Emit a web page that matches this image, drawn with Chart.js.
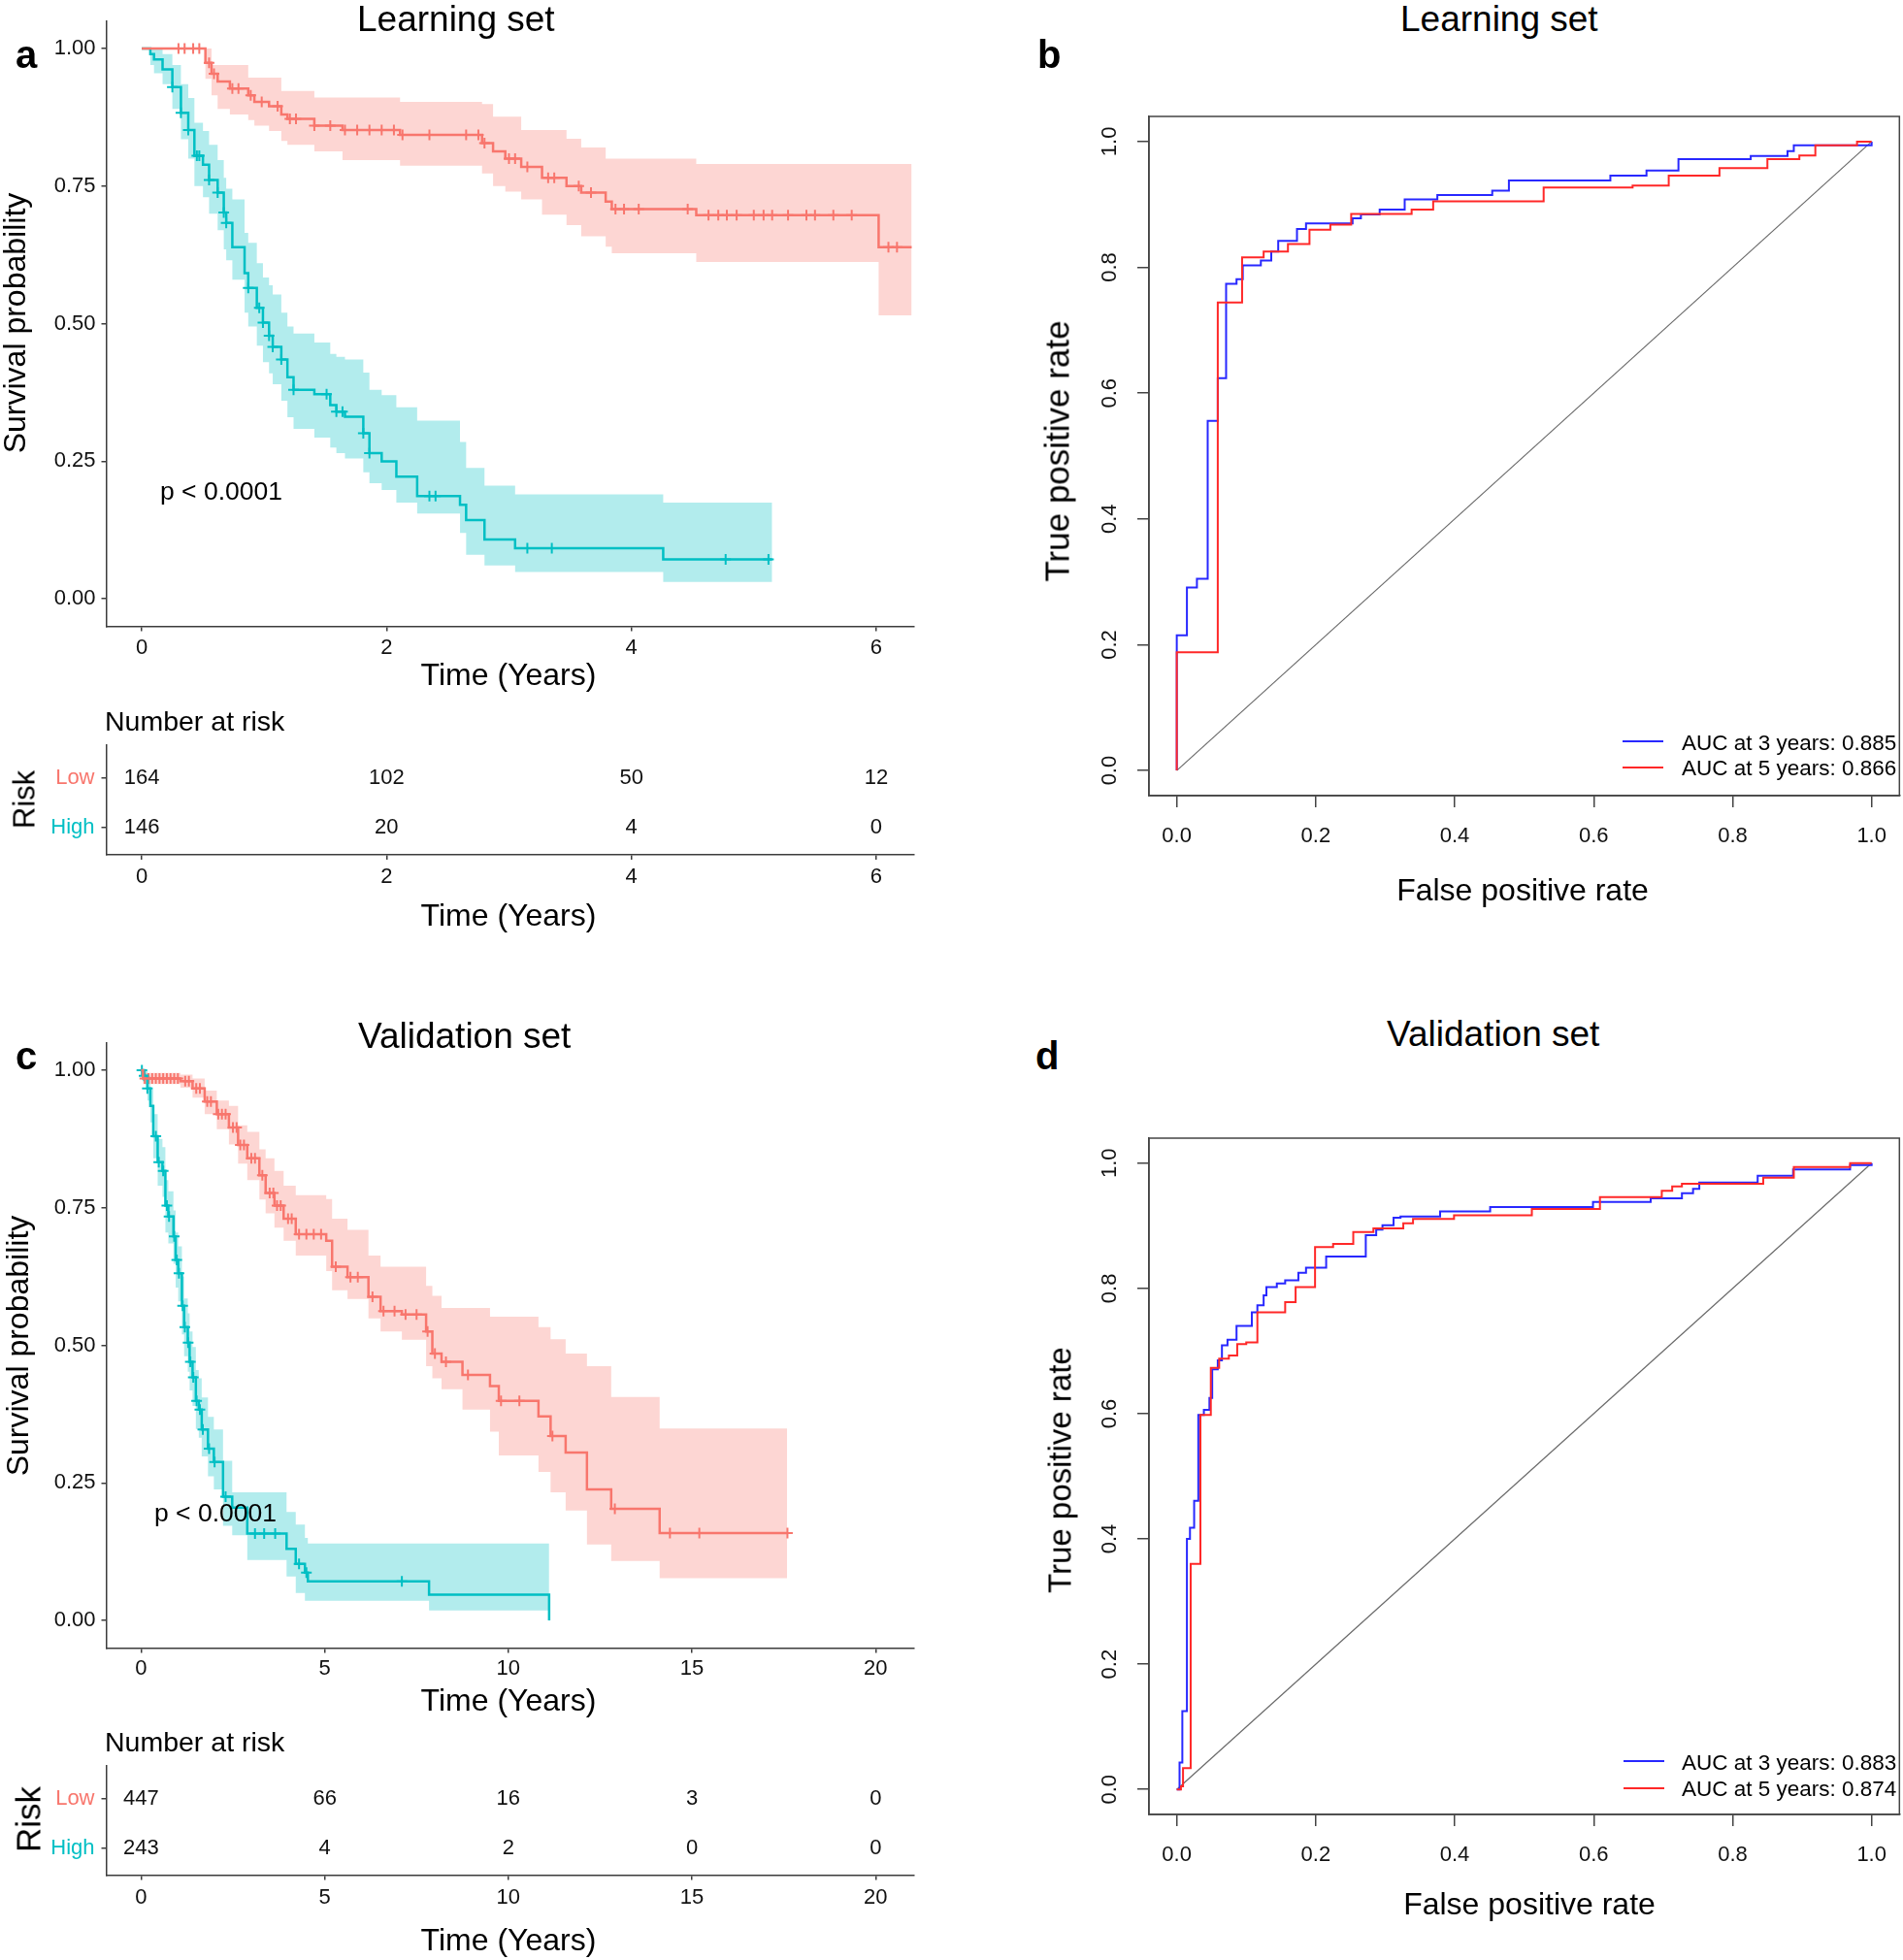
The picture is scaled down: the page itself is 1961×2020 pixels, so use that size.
<!DOCTYPE html>
<html>
<head>
<meta charset="utf-8">
<script src="https://cdn.jsdelivr.net/npm/chart.js@4.4.0/dist/chart.umd.min.js"></script>
<style>
  html, body { margin: 0; padding: 0; background: #fff; overflow: hidden; }
  #page { position: relative; width: 1961px; height: 2020px; font-family: "Liberation Sans", Arial, sans-serif; color: #000; }
  #page canvas { position: absolute; }
  .txt { position: absolute; white-space: nowrap; line-height: 1; }
  .bold { font-weight: bold; }
  .ctr { transform: translateX(-50%); }
  .rot { transform: translate(-50%, -50%) rotate(-90deg); }
  .key { position: absolute; height: 2px; width: 42px; }
</style>
</head>
<body>
<div id="page">
  <canvas id="kmLearn" width="960" height="700" style="left:0;top:0"></canvas>
  <canvas id="riskLearn" width="960" height="200" style="left:0;top:740px"></canvas>
  <canvas id="kmValid" width="960" height="710" style="left:0;top:1050px"></canvas>
  <canvas id="riskValid" width="960" height="200" style="left:0;top:1790px"></canvas>
  <canvas id="rocLearn" width="911" height="860" style="left:1050px;top:60px"></canvas>
  <canvas id="rocValid" width="911" height="860" style="left:1050px;top:1110px"></canvas>

  <div class="txt bold" style="left:16px;top:36px;font-size:40px">a</div>
  <div class="txt bold" style="left:1069px;top:36px;font-size:40px">b</div>
  <div class="txt bold" style="left:16px;top:1068px;font-size:40px">c</div>
  <div class="txt bold" style="left:1067px;top:1068px;font-size:40px">d</div>

  <div class="txt" style="left:368px;top:1px;font-size:37px">Learning set</div>
  <div class="txt" style="left:1443px;top:1px;font-size:37px">Learning set</div>
  <div class="txt" style="left:369px;top:1049px;font-size:37px">Validation set</div>
  <div class="txt" style="left:1429px;top:1047px;font-size:37px">Validation set</div>

  <div class="txt rot" style="left:15px;top:333px;font-size:32px">Survival probability</div>
  <div class="txt rot" style="left:18px;top:1387px;font-size:32px">Survival probability</div>
  <div class="txt ctr" style="left:524px;top:679px;font-size:32px">Time (Years)</div>
  <div class="txt ctr" style="left:524px;top:927px;font-size:32px">Time (Years)</div>
  <div class="txt ctr" style="left:524px;top:1736px;font-size:32px">Time (Years)</div>
  <div class="txt ctr" style="left:524px;top:1983px;font-size:32px">Time (Years)</div>
  <div class="txt" style="left:165px;top:493px;font-size:26.5px">p &lt; 0.0001</div>
  <div class="txt" style="left:159px;top:1546px;font-size:26.5px">p &lt; 0.0001</div>
  <div class="txt" style="left:108px;top:729px;font-size:28.5px">Number at risk</div>
  <div class="txt" style="left:108px;top:1781px;font-size:28.5px">Number at risk</div>
  <div class="txt rot" style="left:24.5px;top:824px;font-size:31px">Risk</div>
  <div class="txt rot" style="left:29px;top:1875px;font-size:35px">Risk</div>

  <div class="txt ctr" style="left:1569px;top:901px;font-size:32px">False positive rate</div>
  <div class="txt ctr" style="left:1576px;top:1946px;font-size:32px">False positive rate</div>
  <div class="txt rot" style="left:1089px;top:465px;font-size:35px">True positive rate</div>
  <div class="txt rot" style="left:1092px;top:1515px;font-size:33px">True positive rate</div>

  <div class="key" style="left:1672px;top:763px;background:rgb(40,40,255)"></div>
  <div class="key" style="left:1672px;top:790px;background:rgb(255,40,40)"></div>
  <div class="txt" style="left:1733px;top:755px;font-size:22.5px">AUC at 3 years: 0.885</div>
  <div class="txt" style="left:1733px;top:781px;font-size:22.5px">AUC at 5 years: 0.866</div>
  <div class="key" style="left:1673px;top:1814px;background:rgb(40,40,255)"></div>
  <div class="key" style="left:1673px;top:1842px;background:rgb(255,40,40)"></div>
  <div class="txt" style="left:1733px;top:1806px;font-size:22.5px">AUC at 3 years: 0.883</div>
  <div class="txt" style="left:1733px;top:1833px;font-size:22.5px">AUC at 5 years: 0.874</div>
</div>
<script>
// ---- learning set, Kaplan-Meier (years, survival, 95% CI) ----
const learnLowTime  = [0, 0.52, 0.57, 0.62, 0.72, 0.87, 0.92, 1.04, 1.14, 1.19, 1.41, 1.64, 2.11, 2.78, 2.87, 2.97, 3.10, 3.27, 3.47, 3.59, 3.79, 3.84, 4.53, 6.02, 6.29];
const learnLowSurv  = [1, 0.974, 0.954, 0.940, 0.927, 0.915, 0.903, 0.895, 0.880, 0.872, 0.860, 0.852, 0.843, 0.828, 0.813, 0.800, 0.785, 0.765, 0.750, 0.738, 0.722, 0.708, 0.697, 0.639, 0.639];
const learnLowUpper = [1, 1, 0.970, 0.970, 0.970, 0.947, 0.947, 0.947, 0.923, 0.923, 0.911, 0.911, 0.903, 0.899, 0.876, 0.876, 0.852, 0.852, 0.836, 0.820, 0.800, 0.800, 0.790, 0.790, 0.790];
const learnLowLower = [1, 0.945, 0.915, 0.890, 0.880, 0.870, 0.860, 0.850, 0.832, 0.825, 0.813, 0.797, 0.787, 0.773, 0.750, 0.740, 0.726, 0.698, 0.679, 0.659, 0.640, 0.628, 0.612, 0.515, 0.515];

const learnHighTime  = [0, 0.07, 0.10, 0.17, 0.25, 0.32, 0.38, 0.43, 0.50, 0.55, 0.62, 0.67, 0.69, 0.74, 0.84, 0.87, 0.94, 0.99, 1.04, 1.07, 1.14, 1.19, 1.24, 1.41, 1.54, 1.59, 1.66, 1.81, 1.86, 1.96, 2.08, 2.25, 2.60, 2.65, 2.80, 3.05, 4.26, 5.15];
const learnHighSurv  = [1, 0.990, 0.980, 0.962, 0.930, 0.883, 0.852, 0.805, 0.789, 0.761, 0.738, 0.702, 0.683, 0.639, 0.592, 0.565, 0.529, 0.502, 0.478, 0.458, 0.435, 0.403, 0.380, 0.372, 0.352, 0.340, 0.331, 0.301, 0.265, 0.250, 0.222, 0.187, 0.171, 0.143, 0.108, 0.092, 0.072, 0.072];
const learnHighUpper = [1, 1, 1, 0.990, 0.970, 0.935, 0.910, 0.865, 0.850, 0.825, 0.797, 0.765, 0.745, 0.726, 0.665, 0.647, 0.610, 0.584, 0.570, 0.553, 0.520, 0.495, 0.482, 0.466, 0.445, 0.440, 0.435, 0.411, 0.380, 0.370, 0.348, 0.324, 0.285, 0.238, 0.206, 0.190, 0.175, 0.175];
const learnHighLower = [1, 0.970, 0.955, 0.935, 0.890, 0.835, 0.800, 0.750, 0.730, 0.700, 0.670, 0.635, 0.615, 0.580, 0.520, 0.495, 0.460, 0.430, 0.410, 0.390, 0.360, 0.330, 0.309, 0.293, 0.275, 0.265, 0.255, 0.230, 0.210, 0.198, 0.175, 0.155, 0.120, 0.080, 0.061, 0.049, 0.031, 0.031];

// censored observations
const learnLowCensT = [0.30, 0.35, 0.42, 0.47, 0.55, 0.59, 0.74, 0.79, 0.89, 0.98, 1.11, 1.21, 1.26, 1.41, 1.54, 1.66, 1.76, 1.86, 1.96, 2.06, 2.13, 2.35, 2.65, 2.75, 2.80, 3.00, 3.05, 3.15, 3.32, 3.37, 3.57, 3.67, 3.87, 3.94, 4.06, 4.46, 4.63, 4.71, 4.78, 4.86, 5.00, 5.08, 5.15, 5.28, 5.43, 5.50, 5.65, 5.80, 6.10, 6.17];
const learnLowCensS = [1, 1, 1, 1, 0.974, 0.954, 0.927, 0.927, 0.915, 0.903, 0.895, 0.872, 0.872, 0.860, 0.860, 0.852, 0.852, 0.852, 0.852, 0.852, 0.843, 0.843, 0.843, 0.843, 0.828, 0.800, 0.800, 0.785, 0.765, 0.765, 0.750, 0.738, 0.708, 0.708, 0.708, 0.708, 0.697, 0.697, 0.697, 0.697, 0.697, 0.697, 0.697, 0.697, 0.697, 0.697, 0.697, 0.697, 0.639, 0.639];
const learnHighCensT = [0.25, 0.32, 0.38, 0.45, 0.47, 0.55, 0.62, 0.67, 0.69, 0.87, 0.96, 0.99, 1.04, 1.07, 1.14, 1.24, 1.51, 1.59, 1.64, 1.81, 1.86, 2.35, 2.40, 3.15, 3.35, 4.77, 5.12];
const learnHighCensS = [0.930, 0.883, 0.852, 0.805, 0.805, 0.761, 0.738, 0.702, 0.683, 0.565, 0.529, 0.502, 0.478, 0.458, 0.435, 0.380, 0.372, 0.340, 0.340, 0.301, 0.265, 0.187, 0.187, 0.092, 0.092, 0.072, 0.072];

// ---- validation set, Kaplan-Meier ----
const validLowTime  = [0, 0.05, 1.07, 1.40, 1.73, 2.06, 2.39, 2.64, 2.89, 3.22, 3.39, 3.63, 3.88, 4.21, 5.04, 5.20, 5.62, 6.19, 6.52, 7.10, 7.76, 7.93, 8.18, 8.75, 9.50, 9.74, 10.82, 11.15, 11.56, 12.14, 12.80, 14.12, 17.59];
const validLowSurv  = [1, 0.985, 0.980, 0.967, 0.943, 0.920, 0.896, 0.864, 0.840, 0.809, 0.777, 0.754, 0.730, 0.702, 0.690, 0.643, 0.624, 0.588, 0.562, 0.556, 0.525, 0.485, 0.470, 0.446, 0.426, 0.399, 0.371, 0.335, 0.305, 0.238, 0.203, 0.159, 0.159];
const validLowUpper = [1, 0.995, 0.992, 0.985, 0.963, 0.945, 0.935, 0.900, 0.888, 0.856, 0.840, 0.817, 0.790, 0.773, 0.766, 0.730, 0.710, 0.663, 0.643, 0.643, 0.608, 0.590, 0.568, 0.568, 0.552, 0.552, 0.533, 0.511, 0.485, 0.462, 0.406, 0.349, 0.349];
const validLowLower = [1, 0.975, 0.968, 0.950, 0.920, 0.893, 0.865, 0.830, 0.800, 0.765, 0.740, 0.714, 0.690, 0.663, 0.635, 0.600, 0.584, 0.549, 0.525, 0.510, 0.462, 0.440, 0.420, 0.383, 0.343, 0.300, 0.270, 0.233, 0.200, 0.138, 0.108, 0.077, 0.077];

const validHighTime  = [0, 0.08, 0.17, 0.25, 0.33, 0.45, 0.58, 0.66, 0.74, 0.88, 0.94, 1.01, 1.11, 1.17, 1.27, 1.32, 1.40, 1.49, 1.57, 1.65, 1.82, 1.98, 2.23, 2.48, 2.89, 3.96, 4.21, 4.46, 4.54, 7.84, 11.11];
const validHighSurv  = [1, 0.990, 0.967, 0.935, 0.880, 0.833, 0.817, 0.754, 0.734, 0.698, 0.655, 0.631, 0.572, 0.533, 0.505, 0.470, 0.442, 0.399, 0.383, 0.347, 0.312, 0.288, 0.225, 0.205, 0.158, 0.130, 0.103, 0.087, 0.071, 0.047, 0];
const validHighUpper = [1, 1, 0.990, 0.965, 0.920, 0.875, 0.860, 0.800, 0.780, 0.745, 0.705, 0.680, 0.625, 0.585, 0.558, 0.525, 0.497, 0.455, 0.440, 0.405, 0.370, 0.347, 0.290, 0.233, 0.233, 0.197, 0.174, 0.150, 0.140, 0.140, 0.140];
const validHighLower = [1, 0.975, 0.945, 0.905, 0.840, 0.790, 0.770, 0.705, 0.685, 0.648, 0.605, 0.580, 0.520, 0.480, 0.452, 0.418, 0.390, 0.348, 0.332, 0.298, 0.262, 0.238, 0.172, 0.155, 0.110, 0.080, 0.050, 0.036, 0.036, 0.018, 0.018];

const validLowCensT = [0.1, 0.2, 0.3, 0.4, 0.5, 0.6, 0.7, 0.8, 0.9, 1.0, 1.2, 1.3, 1.5, 1.6, 1.8, 1.9, 2.1, 2.2, 2.3, 2.5, 2.6, 2.7, 2.8, 3.0, 3.1, 3.3, 3.5, 3.6, 3.7, 3.8, 4.0, 4.1, 4.3, 4.5, 4.7, 4.9, 5.3, 5.7, 5.9, 6.3, 6.6, 6.9, 7.2, 7.5, 7.8, 8.0, 8.3, 8.9, 9.8, 10.3, 11.2, 12.9, 14.4, 15.2, 17.6];
const validLowCensS = [0.985, 0.985, 0.985, 0.985, 0.985, 0.985, 0.985, 0.985, 0.985, 0.985, 0.980, 0.980, 0.967, 0.967, 0.943, 0.943, 0.920, 0.920, 0.920, 0.896, 0.896, 0.864, 0.864, 0.840, 0.840, 0.809, 0.777, 0.777, 0.754, 0.754, 0.730, 0.730, 0.702, 0.702, 0.702, 0.702, 0.643, 0.624, 0.624, 0.588, 0.562, 0.562, 0.556, 0.556, 0.525, 0.485, 0.470, 0.446, 0.399, 0.399, 0.335, 0.203, 0.159, 0.159, 0.159];
const validHighCensT = [0.02, 0.08, 0.17, 0.40, 0.48, 0.60, 0.70, 0.76, 0.90, 0.97, 1.03, 1.13, 1.19, 1.28, 1.34, 1.42, 1.51, 1.60, 1.68, 1.85, 2.00, 2.30, 3.10, 3.35, 3.65, 4.30, 4.50, 7.10];
const validHighCensS = [1, 0.990, 0.967, 0.880, 0.833, 0.817, 0.754, 0.734, 0.698, 0.655, 0.631, 0.572, 0.533, 0.505, 0.470, 0.442, 0.399, 0.383, 0.347, 0.312, 0.288, 0.225, 0.158, 0.158, 0.158, 0.103, 0.087, 0.071];

// ---- number at risk ----
const riskGroups = ['Low', 'High'];
const riskTimesLearn = [0, 2, 4, 6];
const riskLowLearn   = [164, 102, 50, 12];
const riskHighLearn  = [146, 20, 4, 0];
const riskTimesValid = [0, 5, 10, 15, 20];
const riskLowValid   = [447, 66, 16, 3, 0];
const riskHighValid  = [243, 4, 2, 0, 0];

const kmYTicks = [0, 0.25, 0.5, 0.75, 1];
const learnXTicks = [0, 2, 4, 6];
const validXTicks = [0, 5, 10, 15, 20];

// ---- time-dependent ROC (false positive rate, true positive rate) ----
const rocLearnFpr3 = [0, 0, 0.0146, 0.029, 0.0445, 0.059, 0.071, 0.086, 0.095, 0.121, 0.136, 0.146, 0.173, 0.186, 0.253, 0.265, 0.292, 0.328, 0.375, 0.454, 0.478, 0.624, 0.676, 0.722, 0.826, 0.879, 0.888, 1];
const rocLearnTpr3 = [0, 0.215, 0.291, 0.305, 0.556, 0.624, 0.774, 0.781, 0.803, 0.811, 0.825, 0.842, 0.861, 0.870, 0.878, 0.884, 0.892, 0.908, 0.915, 0.922, 0.938, 0.946, 0.954, 0.972, 0.977, 0.985, 0.994, 1];
const rocLearnFpr5 = [0, 0, 0.059, 0.094, 0.125, 0.160, 0.191, 0.221, 0.251, 0.338, 0.369, 0.528, 0.656, 0.708, 0.781, 0.850, 0.896, 0.919, 0.979, 1];
const rocLearnTpr5 = [0, 0.188, 0.744, 0.816, 0.825, 0.837, 0.860, 0.868, 0.885, 0.892, 0.905, 0.927, 0.930, 0.946, 0.958, 0.972, 0.978, 0.994, 1, 1];
const rocValidFpr3 = [0, 0.004, 0.008, 0.0146, 0.019, 0.025, 0.031, 0.039, 0.047, 0.051, 0.059, 0.065, 0.073, 0.086, 0.108, 0.116, 0.125, 0.129, 0.144, 0.156, 0.175, 0.186, 0.215, 0.272, 0.287, 0.296, 0.312, 0.322, 0.379, 0.451, 0.599, 0.682, 0.727, 0.743, 0.752, 0.836, 0.887, 0.969, 1];
const rocValidTpr3 = [0, 0.043, 0.125, 0.400, 0.418, 0.461, 0.598, 0.606, 0.625, 0.671, 0.685, 0.709, 0.718, 0.740, 0.762, 0.773, 0.789, 0.802, 0.808, 0.813, 0.825, 0.833, 0.851, 0.885, 0.894, 0.901, 0.913, 0.915, 0.923, 0.930, 0.938, 0.944, 0.952, 0.959, 0.969, 0.980, 0.990, 0.997, 1];
const rocValidFpr5 = [0, 0.006, 0.009, 0.020, 0.034, 0.049, 0.061, 0.075, 0.087, 0.100, 0.116, 0.156, 0.171, 0.199, 0.225, 0.254, 0.283, 0.326, 0.340, 0.399, 0.511, 0.609, 0.698, 0.713, 0.727, 0.844, 0.888, 0.969, 1];
const rocValidTpr5 = [0, 0.005, 0.034, 0.360, 0.598, 0.673, 0.688, 0.693, 0.711, 0.714, 0.762, 0.778, 0.802, 0.866, 0.871, 0.890, 0.896, 0.904, 0.911, 0.917, 0.927, 0.946, 0.956, 0.963, 0.967, 0.977, 0.994, 1, 1];
const rocDiag = [0, 1];
const rocTicks = [0, 0.2, 0.4, 0.6, 0.8, 1];

const RED = '#F8766D';
const CYAN = '#00BFC4';
const RED_BAND = 'rgba(248,118,109,0.3)';
const CYAN_BAND = 'rgba(0,191,196,0.3)';
const BLUE_ROC = 'rgb(40,40,255)';
const RED_ROC = 'rgb(255,40,40)';
const AXIS = '#3c3c3c';
const FONT = '"Liberation Sans", Arial, sans-serif';

Chart.defaults.font.family = FONT;
Chart.defaults.color = '#111';

function pts(xs, ys) {
  return xs.map((x, i) => ({ x: x, y: ys[i] }));
}

function stepLine(xs, ys, col) {
  return { data: pts(xs, ys), borderColor: col, borderWidth: 2.5, pointRadius: 0, stepped: true, fill: false };
}
function censor(xs, ys, col) {
  return { data: pts(xs, ys), showLine: false, pointStyle: 'cross', pointRadius: 5.5,
           pointBorderColor: col, pointBorderWidth: 2, borderColor: col, fill: false };
}
function bandEdge(xs, ys, fill, col) {
  return { data: pts(xs, ys), borderColor: 'rgba(0,0,0,0)', borderWidth: 0, pointRadius: 0,
           stepped: true, fill: fill, backgroundColor: col || 'rgba(0,0,0,0)' };
}

function fixedTicks(list) {
  return (scale) => { scale.ticks = list.map(v => ({ value: v })); };
}

function kmAxes(xMin, xMax, xTicks, xAxisH, xPad) {
  return {
    x: {
      type: 'linear', min: xMin, max: xMax, bounds: 'data',
      afterBuildTicks: fixedTicks(xTicks),
      afterFit: (s) => { s.height = xAxisH; },
      grid: { display: true, drawOnChartArea: false, drawTicks: true, tickLength: 5, color: AXIS, lineWidth: 1.5 },
      border: { display: true, color: AXIS, width: 1.5 },
      ticks: { font: { size: 22 }, color: '#111', padding: xPad, maxRotation: 0, autoSkip: false, callback: (v) => String(v) }
    }
  };
}

function drawKM(id, g, xMin, xMax, xTicks, padTop, xAxisH, xPad) {
  const scales = kmAxes(xMin, xMax, xTicks, xAxisH, xPad);
  scales.y = {
    type: 'linear', min: -0.05, max: 1.05, bounds: 'data',
    afterBuildTicks: fixedTicks(kmYTicks),
    afterFit: (s) => { s.width = 109.5; },
    grid: { display: true, drawOnChartArea: false, drawTicks: true, tickLength: 5, color: AXIS, lineWidth: 1.5 },
    border: { display: true, color: AXIS, width: 1.5 },
    ticks: { font: { size: 22 }, color: '#111', padding: 6, callback: (v) => v.toFixed(2) }
  };
  new Chart(document.getElementById(id), {
    type: 'line',
    data: { datasets: [
      stepLine(g.lowT, g.lowS, RED),
      stepLine(g.highT, g.highS, CYAN),
      censor(g.lowCT, g.lowCS, RED),
      censor(g.highCT, g.highCS, CYAN),
      bandEdge(g.lowT, g.lowU, false, null),
      bandEdge(g.lowT, g.lowL, '-1', RED_BAND),
      bandEdge(g.highT, g.highU, false, null),
      bandEdge(g.highT, g.highL, '-1', CYAN_BAND)
    ] },
    options: {
      responsive: false, animation: false, events: [],
      layout: { padding: { top: padTop, right: 18, left: 0, bottom: 0 } },
      plugins: { legend: { display: false }, tooltip: { enabled: false }, filler: { drawTime: 'beforeDatasetsDraw' } },
      scales: scales
    }
  });
}

function riskNumbers(times, low, high) {
  return {
    id: 'riskNumbers',
    afterDraw(chart) {
      const xs = chart.scales.x, ys = chart.scales.y, ctx = chart.ctx;
      ctx.save();
      ctx.font = '22px ' + FONT;
      ctx.fillStyle = '#111';
      ctx.textAlign = 'center';
      ctx.textBaseline = 'middle';
      times.forEach((t, i) => {
        ctx.fillText(String(low[i]), xs.getPixelForValue(t), ys.getPixelForValue(2));
        ctx.fillText(String(high[i]), xs.getPixelForValue(t), ys.getPixelForValue(1));
      });
      ctx.restore();
    }
  };
}

function drawRisk(id, times, low, high, xMin, xMax, xTicks, padTop, xAxisH, xPad) {
  const scales = kmAxes(xMin, xMax, xTicks, xAxisH, xPad);
  scales.y = {
    type: 'linear', min: 0.45, max: 2.66, bounds: 'data',
    afterBuildTicks: fixedTicks([1, 2]),
    afterFit: (s) => { s.width = 109.5; },
    grid: { display: true, drawOnChartArea: false, drawTicks: true, tickLength: 5, color: AXIS, lineWidth: 1.5 },
    border: { display: true, color: AXIS, width: 1.5 },
    ticks: {
      font: { size: 22 }, padding: 7,
      color: (c) => (c.tick && c.tick.value === 2 ? RED : CYAN),
      callback: (v) => (v === 2 ? riskGroups[0] : riskGroups[1])
    }
  };
  new Chart(document.getElementById(id), {
    type: 'line',
    data: { datasets: [] },
    options: {
      responsive: false, animation: false, events: [],
      layout: { padding: { top: padTop, right: 18, left: 0, bottom: 0 } },
      plugins: { legend: { display: false }, tooltip: { enabled: false } },
      scales: scales
    },
    plugins: [riskNumbers(times, low, high)]
  });
}

const frameBox = {
  id: 'frameBox',
  afterDraw(chart) {
    const a = chart.chartArea, ctx = chart.ctx;
    ctx.save();
    ctx.strokeStyle = '#444';
    ctx.lineWidth = 1.5;
    ctx.strokeRect(a.left, a.top, a.right - a.left, a.bottom - a.top);
    ctx.restore();
  }
};

const rotatedYTicks = {
  id: 'rotatedYTicks',
  afterDraw(chart) {
    const ys = chart.scales.y, ctx = chart.ctx;
    ctx.save();
    ctx.font = '22px ' + FONT;
    ctx.fillStyle = '#111';
    ctx.textAlign = 'center';
    ctx.textBaseline = 'middle';
    rocTicks.forEach((v) => {
      ctx.save();
      ctx.translate(chart.chartArea.left - 40, ys.getPixelForValue(v));
      ctx.rotate(-Math.PI / 2);
      ctx.fillText(v.toFixed(1), 0, 0);
      ctx.restore();
    });
    ctx.restore();
  }
};

function drawROC(id, fpr3, tpr3, fpr5, tpr5, padTop) {
  new Chart(document.getElementById(id), {
    type: 'line',
    data: { datasets: [
      { data: pts(fpr5, tpr5), borderColor: RED_ROC, borderWidth: 2, pointRadius: 0, stepped: true, fill: false },
      { data: pts(fpr3, tpr3), borderColor: BLUE_ROC, borderWidth: 2, pointRadius: 0, stepped: true, fill: false },
      { data: pts(rocDiag, rocDiag), borderColor: '#6a6a6a', borderWidth: 1.2, pointRadius: 0, fill: false }
    ] },
    options: {
      responsive: false, animation: false, events: [],
      layout: { padding: { top: padTop, right: 1, left: 0, bottom: 0 } },
      plugins: { legend: { display: false }, tooltip: { enabled: false } },
      scales: {
        x: {
          type: 'linear', min: -0.04, max: 1.04, bounds: 'data',
          afterBuildTicks: fixedTicks(rocTicks),
          afterFit: (s) => { s.height = 100; },
          grid: { display: true, drawOnChartArea: false, drawTicks: true, tickLength: 12, color: '#444', lineWidth: 1.5 },
          border: { display: true, color: '#444', width: 1.5 },
          ticks: { font: { size: 22 }, color: '#111', padding: 17, maxRotation: 0, autoSkip: false, callback: (v) => v.toFixed(1) }
        },
        y: {
          type: 'linear', min: -0.04, max: 1.04, bounds: 'data',
          afterBuildTicks: fixedTicks(rocTicks),
          afterFit: (s) => { s.width = 134; },
          grid: { display: true, drawOnChartArea: false, drawTicks: true, tickLength: 12, color: '#444', lineWidth: 1.5 },
          border: { display: true, color: '#444', width: 1.5 },
          ticks: { display: false }
        }
      }
    },
    plugins: [frameBox, rotatedYTicks]
  });
}

const learnGroups = {
  lowT: learnLowTime, lowS: learnLowSurv, lowU: learnLowUpper, lowL: learnLowLower,
  highT: learnHighTime, highS: learnHighSurv, highU: learnHighUpper, highL: learnHighLower,
  lowCT: learnLowCensT, lowCS: learnLowCensS, highCT: learnHighCensT, highCS: learnHighCensS
};
const validGroups = {
  lowT: validLowTime, lowS: validLowSurv, lowU: validLowUpper, lowL: validLowLower,
  highT: validHighTime, highS: validHighSurv, highU: validHighUpper, highL: validHighLower,
  lowCT: validLowCensT, lowCS: validLowCensS, highCT: validHighCensT, highCS: validHighCensS
};

drawKM('kmLearn', learnGroups, -0.29, 6.31, learnXTicks, 21.6, 54.4, 4);
drawRisk('riskLearn', riskTimesLearn, riskLowLearn, riskHighLearn, -0.29, 6.31, learnXTicks, 28, 59, 5);
drawKM('kmValid', validGroups, -0.95, 21.05, validXTicks, 24.6, 61.6, 3.5);
drawRisk('riskValid', riskTimesValid, riskLowValid, riskHighValid, -0.95, 21.05, validXTicks, 30, 57.4, 5.5);
drawROC('rocLearn', rocLearnFpr3, rocLearnTpr3, rocLearnFpr5, rocLearnTpr5, 60);
drawROC('rocValid', rocValidFpr3, rocValidTpr3, rocValidFpr5, rocValidTpr5, 63);
</script>
</body>
</html>
